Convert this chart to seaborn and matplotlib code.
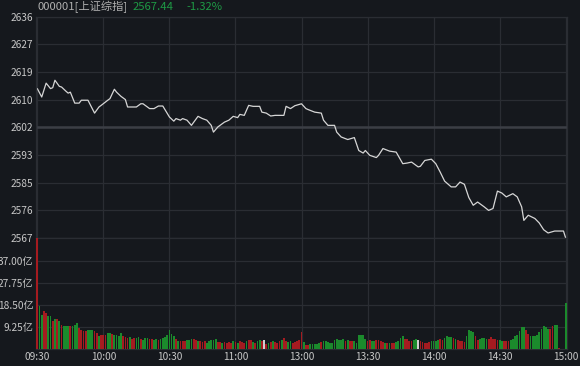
import numpy as np
import pandas as pd
import matplotlib
matplotlib.use("Agg")
import matplotlib.pyplot as plt
import seaborn as sns

# ---- data ----
# price line: minute index (0 = 09:30, 120 = 11:30/13:00, 240 = 15:00) and index level
minute = [0, 2, 4, 6, 7, 8, 10, 11, 13, 14, 15, 17, 19, 20, 23, 26, 28, 29, 32, 33,
          35, 36, 38, 40, 41, 45, 47, 48, 51, 53, 55, 57, 60, 62, 63, 65, 66, 68, 70, 73,
          75, 77, 79, 80, 82, 85, 87, 89, 91, 92, 94, 96, 98, 101, 102, 104, 106, 108, 112, 113,
          115, 117, 119, 120, 122, 123, 126, 129, 130, 132, 135, 136, 138, 141, 144, 146, 148, 149, 151, 154,
          155, 157, 160, 163, 166, 168, 170, 173, 174, 176, 179, 181, 183, 185, 188, 190, 192, 194, 196, 198,
          200, 203, 205, 207, 209, 211, 213, 216, 218, 220, 221, 223, 226, 228, 230, 232, 235, 239, 240]
price = [2613.8, 2611.2, 2615.5, 2613.8, 2614.1, 2616.4, 2614.5, 2614.3, 2613.0, 2612.4,
         2612.7, 2609.3, 2609.3, 2610.2, 2610.2, 2606.2, 2608.1, 2608.6, 2610.2, 2610.7,
         2613.6, 2612.7, 2611.4, 2610.4, 2608.1, 2608.1, 2609.1, 2609.1, 2607.6, 2607.6,
         2608.4, 2608.4, 2605.0, 2603.7, 2604.5, 2604.0, 2604.5, 2604.0, 2602.4, 2605.2,
         2604.5, 2604.0, 2602.4, 2600.3, 2601.9, 2603.4, 2604.0, 2605.2, 2604.8, 2605.8,
         2605.5, 2608.6, 2608.3, 2608.3, 2606.5, 2606.2, 2605.3, 2605.5, 2605.5, 2608.3,
         2607.6, 2608.5, 2608.9, 2609.1, 2607.6, 2607.3, 2606.5, 2606.2, 2604.0, 2602.4,
         2602.4, 2600.3, 2598.8, 2598.0, 2598.6, 2594.6, 2593.8, 2594.6, 2593.1, 2592.4,
         2593.1, 2595.2, 2594.4, 2594.1, 2590.5, 2590.7, 2591.0, 2589.5, 2589.7, 2591.5,
         2591.9, 2590.5, 2587.9, 2585.1, 2583.3, 2583.3, 2584.8, 2584.1, 2580.0, 2577.6,
         2578.6, 2577.1, 2576.0, 2576.6, 2582.0, 2581.4, 2580.2, 2581.2, 2580.2, 2577.1,
         2572.9, 2574.5, 2573.5, 2572.1, 2570.0, 2569.0, 2569.6, 2569.6, 2567.44]

# volume per minute, 亿
volume = [47.0, 17.9, 14.4, 15.8, 15.1, 13.7, 13.7, 11.6, 12.6, 12.6,
          11.6, 10.2, 9.5, 9.8, 9.8, 9.5, 9.5, 10.2, 10.9, 8.8,
          8.1, 7.4, 7.4, 7.8, 8.1, 8.1, 7.4, 6.7, 5.6, 6.0,
          6.0, 6.0, 6.7, 6.7, 6.4, 6.0, 6.0, 5.6, 6.7, 5.3,
          4.9, 4.6, 4.9, 4.2, 4.6, 4.6, 5.0, 4.2, 3.9, 4.6,
          4.6, 4.2, 4.2, 3.9, 4.2, 3.9, 4.2, 4.6, 5.0, 6.0,
          7.8, 6.4, 5.3, 4.2, 3.2, 3.2, 3.2, 3.2, 3.6, 3.9,
          4.2, 4.2, 3.9, 3.2, 3.2, 2.8, 3.2, 2.5, 3.2, 3.9,
          3.9, 4.2, 2.8, 2.8, 2.5, 2.8, 2.5, 2.8, 2.5, 3.2,
          2.8, 2.5, 3.2, 2.8, 2.5, 3.2, 3.6, 3.6, 2.8, 2.5,
          3.2, 3.6, 3.2, 3.6, 2.2, 2.5, 2.8, 3.2, 2.8, 2.5,
          3.2, 3.6, 4.6, 3.2, 2.8, 3.2, 2.5, 2.8, 3.2, 3.6,
          7.0, 2.8, 1.8, 1.8, 2.2, 2.2, 2.2, 2.2, 2.5, 2.8,
          3.2, 3.2, 2.8, 2.5, 2.5, 3.9, 4.2, 3.9, 3.9, 4.2,
          3.2, 3.6, 3.2, 3.2, 3.2, 2.5, 6.0, 6.0, 6.0, 4.2,
          3.2, 3.9, 3.2, 3.2, 3.6, 3.6, 3.2, 2.8, 2.5, 2.5,
          2.5, 2.5, 2.5, 2.8, 3.2, 4.6, 5.3, 4.2, 4.2, 3.2,
          3.2, 3.9, 4.2, 3.6, 3.2, 2.8, 2.5, 2.5, 2.8, 3.2,
          3.2, 3.2, 3.9, 4.2, 3.9, 4.6, 5.3, 4.9, 4.9, 4.6,
          4.2, 3.6, 3.2, 3.2, 2.8, 5.3, 7.8, 7.4, 7.0, 5.3,
          3.9, 4.2, 4.6, 4.6, 4.2, 4.2, 4.9, 4.2, 4.2, 3.9,
          3.6, 3.2, 3.2, 3.2, 3.2, 3.9, 4.2, 5.3, 6.0, 7.4,
          9.25, 9.25, 8.1, 6.4, 5.3, 5.6, 5.6, 6.0, 7.0, 8.4,
          9.8, 9.25, 8.4, 8.4, 9.8, 10.2, 10.2, 0.4, 0.2, 0.2,
          19.2]
# r = up, g = down, w = flat
vol_dir = ("rggrrggrgr" "grgggrgggr" "rrrgggrrgr" "rrggrggggr" "rrgrrggrgg" "grrggrgggg"
           "gggrgrrrgg" "grrgrrrggg" "ggrrgrrrrg" "rgrrrgrrgr" "ggrwrgrgrr" "rgrrggrrrr"
           "rgrrgggggr" "gggggggggg" "rgrrgggggg" "rrggrrrrgr" "grrggggrrr" "rggwrrrrrg"
           "gggrrggggr" "grrrrggggr" "rggggrrrrr" "ggrrrggggg" "ggrrgggggg" "gggrrggrgg" "g")

prev_close = 2601.78
last = 2567.44
pct = "-1.32%"
price_ticks = ["2567", "2576", "2585", "2593", "2602", "2610", "2619", "2627", "2636"]
vol_ticks = [9.25, 18.50, 27.75, 37.00]
time_pos = [0, 30, 60, 90, 120, 150, 180, 210, 240]
time_labels = ["09:30", "10:00", "10:30", "11:00", "13:00", "13:30", "14:00", "14:30", "15:00"]

# ---- style ----
bg = "#15181d"
grid = "#2a2d33"
red = "#c4232b"
green = "#1e9a45"
bar_col = {"r": "#a51b20", "g": "#1b8a2c", "w": "#cfcfcf"}
sns.set_theme(style="dark", rc={"figure.facecolor": bg, "axes.facecolor": bg,
                                "axes.edgecolor": grid, "grid.color": grid})
plt.rcParams["font.family"] = ["Noto Sans CJK SC", "DejaVu Sans"]

fig = plt.figure(figsize=(5.8, 3.66), dpi=100)
W, H = 580, 366
x0, x1 = 36, 567
ax_p = fig.add_axes([x0 / W, 1 - 238 / H, (x1 - x0) / W, (238 - 16.7) / H])
ax_v = fig.add_axes([x0 / W, 1 - 349 / H, (x1 - x0) / W, (349 - 238) / H], sharex=ax_p)

# price panel
sns.lineplot(x=minute, y=price, ax=ax_p, color="#d6d6d6", linewidth=0.9)
step = (prev_close - last) / 4
ticks = [last + k * step for k in range(9)]
ax_p.set_ylim(ticks[0], ticks[-1])
ax_p.set_yticks(ticks)
ax_p.set_yticklabels(price_ticks)
for k, lab in enumerate(ax_p.get_yticklabels()):
    lab.set_color(green if k < 4 else ("#c8c8c8" if k == 4 else red))
ax_p.axhline(prev_close, color="#3b3e45", lw=1.8, zorder=1)

# volume panel
vdf = pd.DataFrame({"minute": np.arange(len(volume)), "vol": volume, "dir": list(vol_dir)})
ax_v.bar(vdf["minute"], vdf["vol"], width=0.8, color=[bar_col[d] for d in vdf["dir"]],
         linewidth=0, zorder=3)
ax_v.set_ylim(0, 46.7)
ax_v.set_yticks(vol_ticks)
ax_v.set_yticklabels([f"{v:.2f}亿" for v in vol_ticks])

ax_v.set_xlim(-0.6, 240.6)
ax_v.set_xticks(time_pos)
ax_v.set_xticklabels(time_labels)

for ax in (ax_p, ax_v):
    ax.grid(True, color=grid, lw=0.9)
    ax.set_xlabel("")
    ax.set_ylabel("")
    ax.tick_params(length=0, labelsize=7.3, pad=1.8, colors="#c8c8c8")
    for s in ax.spines.values():
        s.set_color(grid)
        s.set_linewidth(0.9)
    ax.set_axisbelow(True)
ax_p.tick_params(axis="x", labelbottom=False)

# header
hy = 1 - 7 / H
fig.text(37 / W, hy, "000001[上证综指]", color="#b0b0b0", fontsize=8.1, va="center")
fig.text(133 / W, hy, f"{last:.2f}", color=green, fontsize=8.1, va="center")
fig.text(186 / W, hy, pct, color=green, fontsize=8.1, va="center")

fig.savefig("out.png", dpi=100, facecolor=bg)
